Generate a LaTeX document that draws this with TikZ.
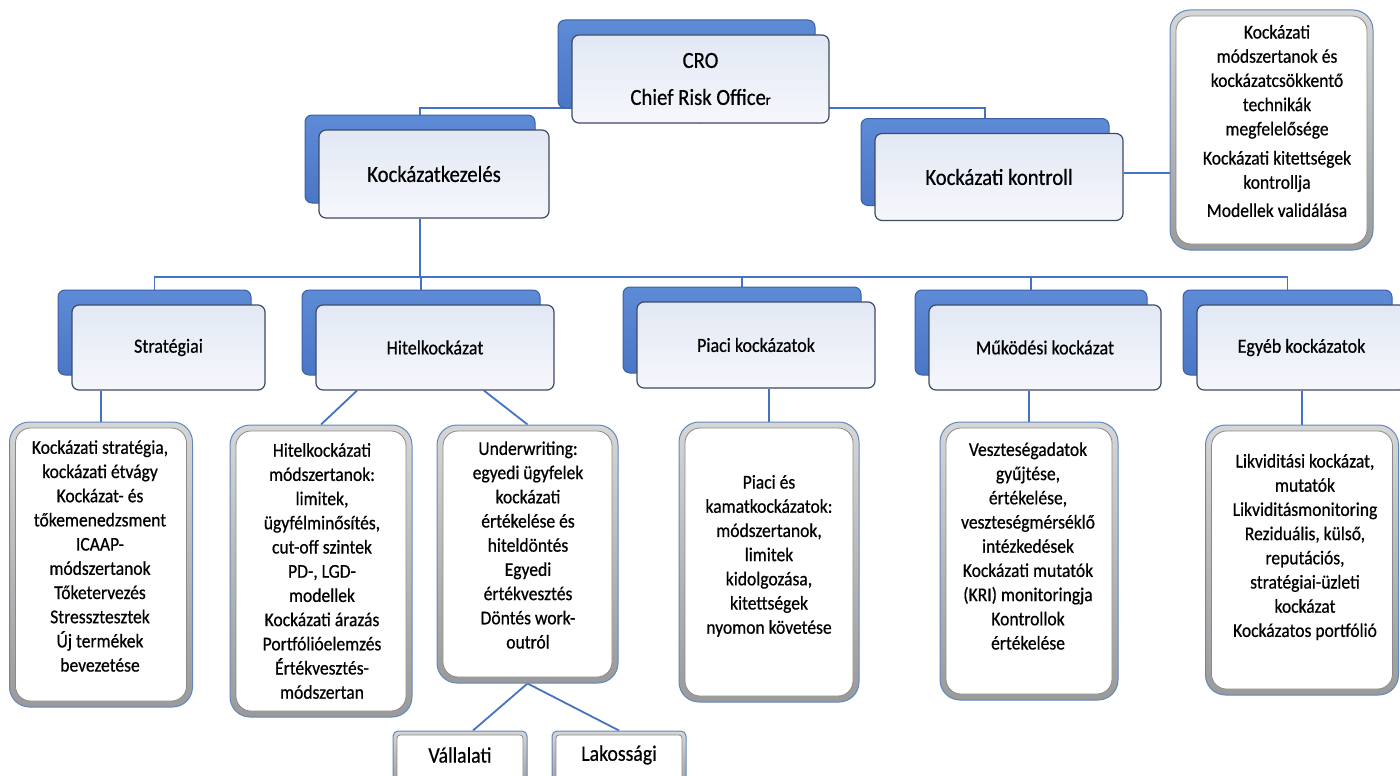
\documentclass[tikz,border=0pt]{standalone}
\usepackage{fontspec}
\setmainfont{Carlito}[FakeStretch=0.9,FakeBold=0.6]
\usetikzlibrary{shadows,backgrounds}

\definecolor{connblue}{HTML}{4472C4}
\definecolor{backtop}{HTML}{5E8BD6}
\definecolor{backbot}{HTML}{4A76C6}
\definecolor{backedge}{HTML}{3A5FA8}
\definecolor{fronttop}{HTML}{E2E8F4}
\definecolor{frontbot}{HTML}{F5F7FB}
\definecolor{frontedge}{HTML}{3D4B66}
\definecolor{ringedge}{HTML}{6187C2}
\definecolor{ringtop}{HTML}{D6D6D6}
\definecolor{ringbot}{HTML}{9A9A9A}
\definecolor{innerline}{HTML}{8A8A8A}

\begin{document}
\begin{tikzpicture}[x=1pt,y=-1pt,
  conn/.style={draw=connblue, line width=1.8pt},
  tier/.style={rounded corners=7pt, draw=frontedge, line width=1.2pt,
    top color=fronttop, bottom color=frontbot, inner sep=0pt,
    general shadow={top color=backtop, bottom color=backbot, draw=backedge,
      line width=1pt, shadow xshift=-14pt, shadow yshift=15pt}},
  bigtext/.style={font=\fontsize{23}{28}\selectfont, align=center},
  midtext/.style={font=\fontsize{20}{24}\selectfont, align=center},
  detail/.style={rounded corners=20pt, draw=ringedge, line width=1pt,
    top color=ringtop, bottom color=ringbot, inner sep=0pt,
    path picture={\draw[draw=innerline, line width=0.8pt, fill=white, rounded corners=15pt]
      ([shift={(6pt,6pt)}]path picture bounding box.south west) rectangle
      ([shift={(-6pt,-6pt)}]path picture bounding box.north east);}},
  leaf/.style={rounded corners=5pt, draw=ringedge, line width=1pt,
    top color=ringtop, bottom color=ringbot, inner sep=0pt,
    path picture={\draw[draw=innerline, line width=0.8pt, fill=white, rounded corners=3pt]
      ([shift={(4pt,4pt)}]path picture bounding box.south west) rectangle
      ([shift={(-4pt,-4pt)}]path picture bounding box.north east);}},
  boxtext/.style={font=\fontsize{19.5}{24.2}\selectfont, align=center, inner sep=0pt},
]
\useasboundingbox (0,0) rectangle (1400,776);

% top level
\node[tier, minimum width=257pt, minimum height=88pt, bigtext] (cro) at (700.5,79)
  {CRO\\[9pt]Chief Risk Office{\fontsize{15}{15}\selectfont r}};
\node[tier, minimum width=230pt, minimum height=88pt, bigtext] (kk) at (434,174) {Kockázatkezelés};
\node[tier, minimum width=248pt, minimum height=87pt, bigtext] (kc) at (999,177) {Kockázati kontroll};

% control tasks
\node[detail, minimum width=203pt, minimum height=240pt] (rb) at (1271.5,130) {};
\node[boxtext] (rb-text) at (1277,121)
  {Kockázati\\módszertanok és\\kockázatcsökkentő\\technikák\\megfelelősége\\[5pt]Kockázati kitettségek\\kontrollja\\[4pt]Modellek validálása};

% risk areas
\node[tier, minimum width=193pt, minimum height=85pt, midtext] (strat) at (168.5,347.5) {Stratégiai};
\node[tier, minimum width=238pt, minimum height=85pt, midtext] (hitel) at (435,347.5) {Hitelkockázat};
\node[tier, minimum width=238pt, minimum height=86pt, midtext] (piaci) at (756,345) {Piaci kockázatok};
\node[tier, minimum width=232pt, minimum height=85pt, midtext] (mukodesi) at (1045,347.5) {Működési kockázat};
\node[tier, minimum width=209pt, minimum height=85pt, midtext] (egyeb) at (1301.5,347.5) {Egyéb kockázatok};

% task boxes
\node[detail, minimum width=183pt, minimum height=285pt] (d1) at (101,564.5) {};
\node[boxtext] (d1-text) at (100,556)
  {Kockázati stratégia,\\kockázati étvágy\\Kockázat- és\\tőkemenedzsment\\ICAAP-\\módszertanok\\Tőketervezés\\Stressztesztek\\Új termékek\\bevezetése};

\node[detail, minimum width=182pt, minimum height=292pt] (d2) at (321,571) {};
\node[boxtext] (d2-text) at (322,571)
  {Hitelkockázati\\módszertanok:\\limitek,\\ügyfélminősítés,\\cut-off szintek\\PD-, LGD-\\modellek\\Kockázati árazás\\Portfólióelemzés\\Értékvesztés-\\módszertan};

\node[detail, minimum width=181pt, minimum height=258pt] (d3) at (527.5,554) {};
\node[boxtext] (d3-text) at (528,545)
  {Underwriting:\\egyedi ügyfelek\\kockázati\\értékelése és\\hiteldöntés\\Egyedi\\értékvesztés\\Döntés work-\\outról};

\node[detail, minimum width=180pt, minimum height=280pt] (d4) at (769,562) {};
\node[boxtext] (d4-text) at (769,556)
  {Piaci és\\kamatkockázatok:\\módszertanok,\\limitek\\kidolgozása,\\kitettségek\\nyomon követése};

\node[detail, minimum width=178pt, minimum height=278pt] (d5) at (1029,561) {};
\node[boxtext] (d5-text) at (1028,546)
  {Veszteségadatok\\gyűjtése,\\értékelése,\\veszteségmérséklő\\intézkedések\\Kockázati mutatók\\(KRI) monitoringja\\Kontrollok\\értékelése};

\node[detail, minimum width=193pt, minimum height=270pt] (d6) at (1302,560) {};
\node[boxtext] (d6-text) at (1305,547)
  {Likviditási kockázat,\\mutatók\\Likviditásmonitoring\\Reziduális, külső,\\reputációs,\\stratégiai-üzleti\\kockázat\\Kockázatos portfólió};

% client segments
\node[leaf, minimum width=134pt, minimum height=58pt] (va) at (460,760) {};
\node[boxtext, font=\fontsize{22}{24}\selectfont] (va-text) at (460,755) {Vállalati};
\node[leaf, minimum width=134pt, minimum height=58pt] (la) at (619,760) {};
\node[boxtext, font=\fontsize{22}{24}\selectfont] (la-text) at (619,755) {Lakossági};

% connectors
\coordinate (bus1) at (700,108);
\coordinate (bus2) at (421,277);
\coordinate (kk-top) at ([xshift=-14pt]kk.north);
\coordinate (kc-top) at ([xshift=-14pt]kc.north);
\coordinate (kk-stem) at ([xshift=-14pt]kk.south);
\coordinate (strat-top) at ([xshift=-14pt]strat.north);
\coordinate (hitel-top) at ([xshift=-14pt]hitel.north);
\coordinate (piaci-top) at ([xshift=-14pt]piaci.north);
\coordinate (mukodesi-top) at ([xshift=-14pt]mukodesi.north);
\coordinate (egyeb-top) at ([xshift=-14pt]egyeb.north);
\coordinate (kc-out) at ([yshift=4pt]kc.east);

\begin{scope}[on background layer]
  \draw[conn] (cro) -- (cro |- bus1);
  \draw[conn] (kk-top) |- (bus1) -| (kc-top);
  \draw[conn] (kc-out) -- (kc-out -| rb.west);
  \draw[conn] (kk-stem) -- (kk-stem |- bus2);
  \draw[conn] (strat-top) |- (bus2) -| (egyeb-top);
  \draw[conn] (hitel-top) -- (hitel-top |- bus2);
  \draw[conn] (piaci-top) -- (piaci-top |- bus2);
  \draw[conn] (mukodesi-top) -- (mukodesi-top |- bus2);
  \draw[conn] (d1.north) -- (d1.north |- strat.south);
  \draw[conn] ([xshift=-78pt]hitel.south) -- (d2.north);
  \draw[conn] ([xshift=49pt]hitel.south) -- (d3.north);
  \draw[conn] (d4.north) -- (d4.north |- piaci.south);
  \draw[conn] (d5.north) -- (d5.north |- mukodesi.south);
  \draw[conn] (d6.north) -- (d6.north |- egyeb.south);
  \draw[conn] (d3.south) -- ([xshift=13pt]va.north);
  \draw[conn] (d3.south) -- (la.north);
\end{scope}
\end{tikzpicture}
\end{document}
